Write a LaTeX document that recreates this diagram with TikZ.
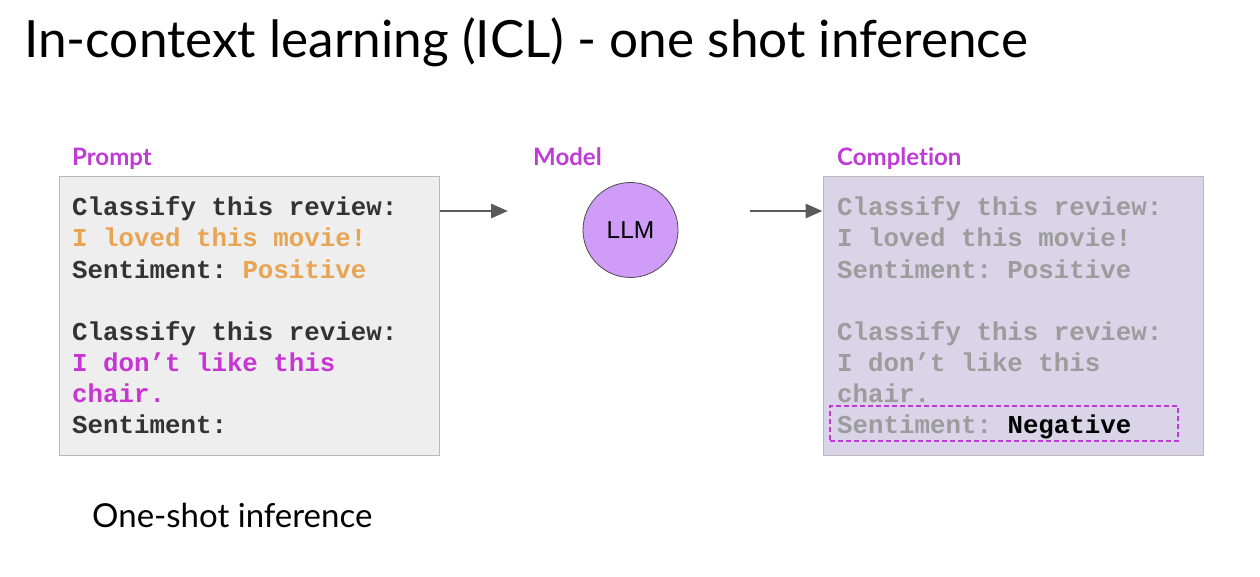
\documentclass[tikz,border=0pt]{standalone}
\usepackage{fontspec}
\setmainfont{Lato}[Ligatures=NoCommon]
\setmonofont{Liberation Mono}
\newfontfamily\arialfont{Liberation Sans}
\usetikzlibrary{positioning,arrows.meta}

\definecolor{labelmag}{HTML}{C03AD6}
\definecolor{lovedorange}{HTML}{E9A453}
\definecolor{chairmag}{HTML}{C735D3}
\definecolor{promptfill}{HTML}{EEEEEE}
\definecolor{complfill}{HTML}{D9D4E8}
\definecolor{llmfill}{HTML}{CF9DF7}
\definecolor{fadedtext}{HTML}{9C9C9C}
\definecolor{arrowgray}{HTML}{5A5A5A}
\definecolor{boxline}{HTML}{B8B8B8}

\tikzset{
  panel/.style={draw=boxline, line width=1pt, minimum width=380pt, minimum height=278pt, inner sep=0pt},
  head/.style={anchor=base west, inner sep=0pt, text=labelmag, font=\fontsize{24}{28}\selectfont\bfseries},
  codeline/.style={anchor=base west, inner sep=0pt, font=\fontsize{25.8}{31}\selectfont\ttfamily\bfseries},
  conn/.style={draw=arrowgray, line width=2.8pt, -{Triangle[length=17pt,width=14pt]}}
}

\begin{document}
\begin{tikzpicture}[x=1pt,y=-1pt]
\useasboundingbox[fill=white] (0,0) rectangle (1260,577);

\node[anchor=base west, inner sep=0pt, font=\fontsize{51.3}{60}\selectfont] (title) at (24,58) {In-context learning (ICL) - one shot inference};

% prompt
\node[head] (prompthead) at (72,166) {Prompt};
\node[panel, fill=promptfill] (prompt) at (249,316) {};
\foreach \n/\y/\t in {1/216/{Classify this review:},
                     2/247/{\textcolor{lovedorange}{I loved this movie!}},
                     3/278/{Sentiment: \textcolor{lovedorange}{Positive}},
                     4/340/{Classify this review:},
                     5/371/{\textcolor{chairmag}{I don’t like this}},
                     6/402/{\textcolor{chairmag}{chair.}},
                     7/433/{Sentiment:}} {
\node[codeline, text=black!80] (p\n) at (72,\y) {\t};
}

% model
\node[head] (modelhead) at (533,166) {Model};
\node[circle, draw=black!70, line width=0.8pt, fill=llmfill, minimum size=95pt, inner sep=0pt,
      font=\fontsize{24.5}{28}\selectfont\arialfont] (llm) at (630.5,230) {LLM};

% completion
\node[head] (complhead) at (837,166) {Completion};
\node[panel, fill=complfill] (compl) at (1013,316) {};
\foreach \n/\y/\t in {1/216/{Classify this review:},
                     2/247/{I loved this movie!},
                     3/278/{Sentiment: Positive},
                     4/340/{Classify this review:},
                     5/371/{I don’t like this},
                     6/402/{chair.}} {
\node[codeline, text=fadedtext] (c\n) at (837,\y) {\t};
}
\node[codeline, text=fadedtext] (c7) at (837,433) {Sentiment: \textcolor{black}{Negative}};
\node[draw=labelmag, dash pattern=on 5pt off 3pt, line width=1.4pt, minimum width=348pt, minimum height=35pt] (answer) at (1004,423.5) {};

\coordinate (a1end) at (508,211);
\coordinate (a2start) at (750,211);
\draw[conn] (prompt.east |- a1end) -- (a1end);
\draw[conn] (a2start) -- (compl.west |- a2start);

\node[anchor=base west, inner sep=0pt, font=\fontsize{33}{38}\selectfont] (caption) at (92,527) {One-shot inference};
\end{tikzpicture}
\end{document}
